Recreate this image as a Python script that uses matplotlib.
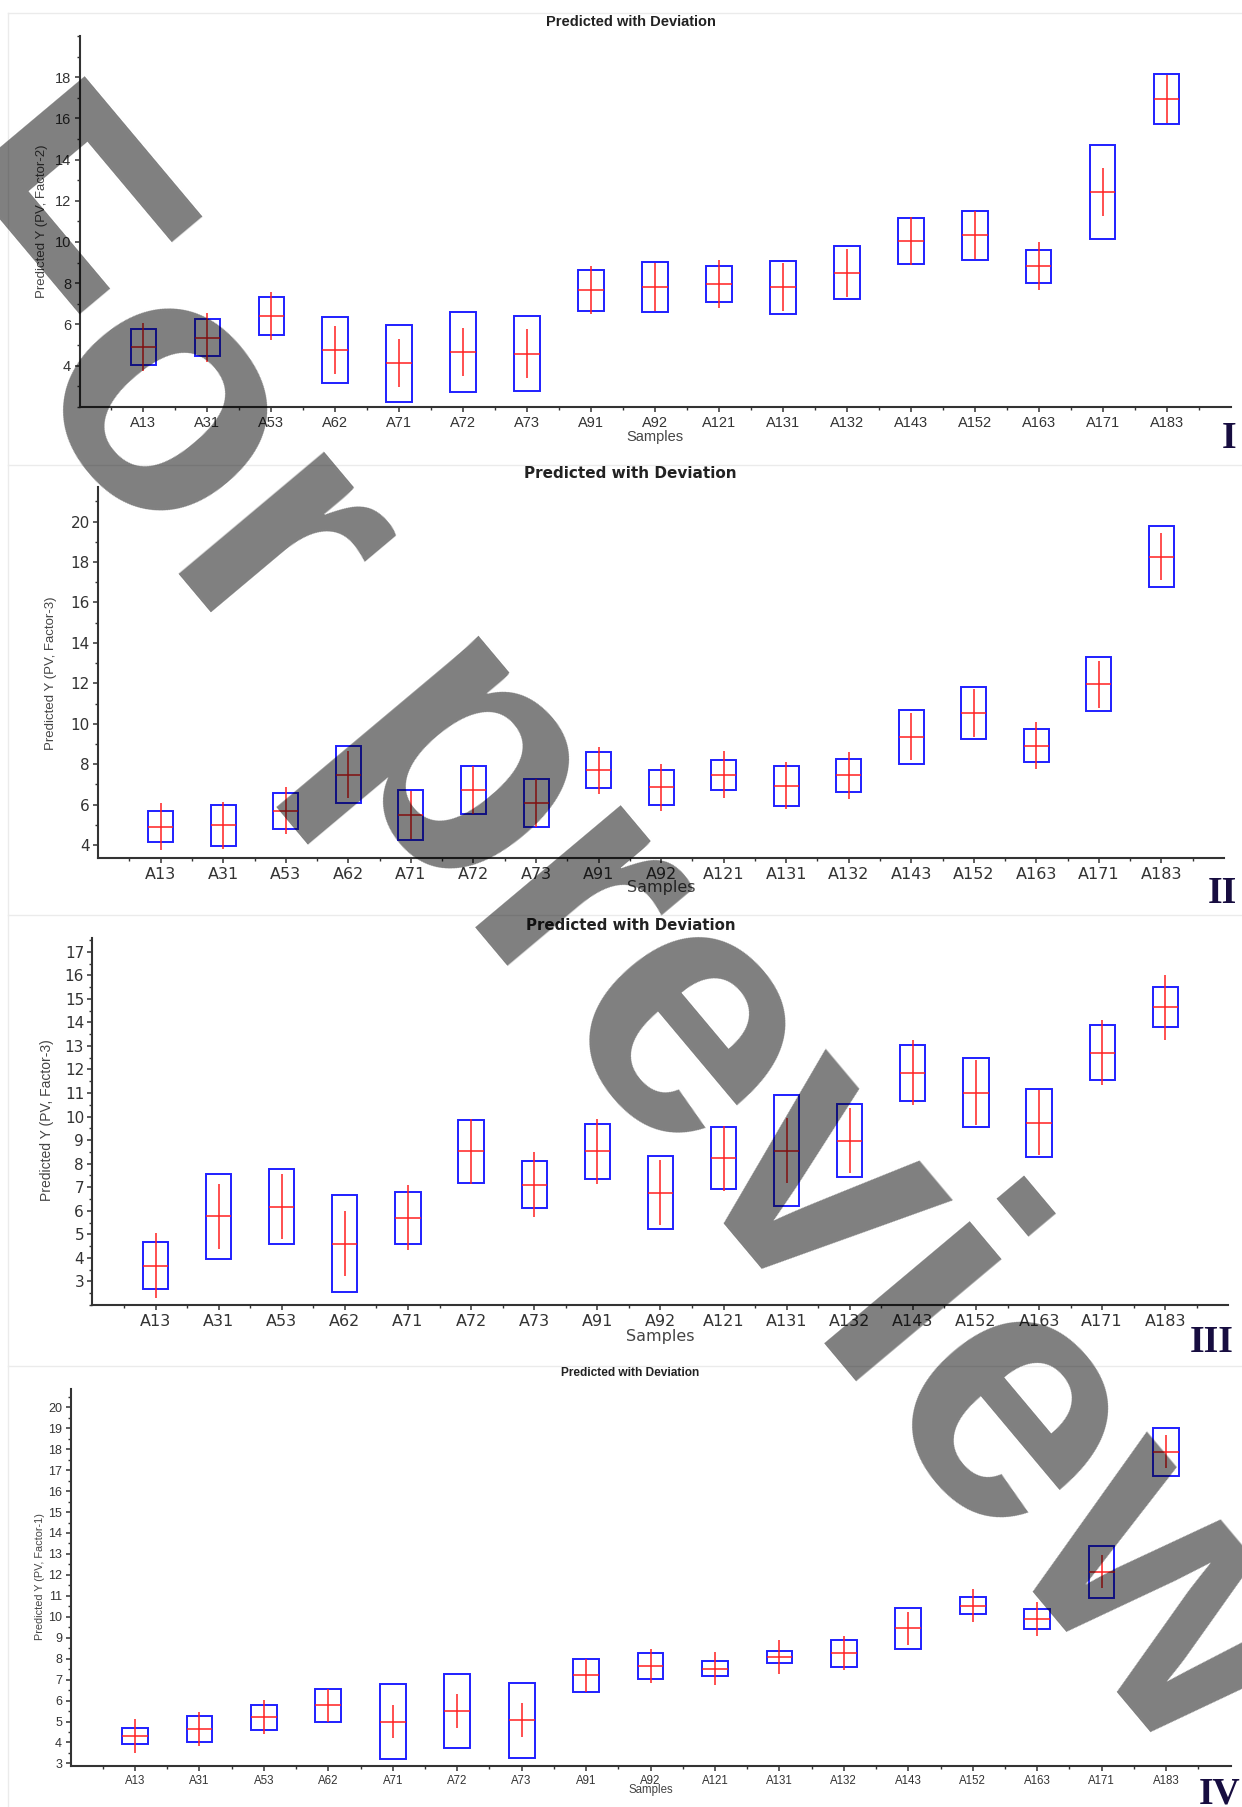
import matplotlib
matplotlib.use("Agg")
import matplotlib.pyplot as plt
from matplotlib.patches import Rectangle
from matplotlib.lines import Line2D
from matplotlib.ticker import MultipleLocator, FixedLocator, NullFormatter

W, H = 1242, 1807
plt.rcParams['font.family'] = ['Liberation Sans', 'DejaVu Sans']

samples = ["A13", "A31", "A53", "A62", "A71", "A72", "A73", "A91", "A92",
           "A121", "A131", "A132", "A143", "A152", "A163", "A171", "A183"]

# Panel I  (PV, Factor-2)
pred_1 = [4.90, 5.36, 6.41, 4.76, 4.12, 4.65, 4.58, 7.66, 7.82,
          7.94, 7.80, 8.50, 10.05, 10.32, 8.83, 12.42, 16.94]
dev_1 = [0.88, 0.90, 0.93, 1.60, 1.87, 1.93, 1.83, 0.99, 1.20,
         0.87, 1.29, 1.28, 1.10, 1.20, 0.80, 2.30, 1.21]
err_1 = 1.17
yticks_1 = [4, 6, 8, 10, 12, 14, 16, 18]

# Panel II  (PV, Factor-3)
pred_2 = [4.91, 4.98, 5.69, 7.48, 5.48, 6.72, 6.08, 7.70, 6.86,
          7.47, 6.94, 7.45, 9.35, 10.53, 8.92, 11.95, 18.27]
dev_2 = [0.76, 1.02, 0.89, 1.40, 1.22, 1.17, 1.17, 0.90, 0.86,
         0.73, 0.99, 0.82, 1.34, 1.31, 0.80, 1.33, 1.50]
err_2 = 1.17
yticks_2 = [4, 6, 8, 10, 12, 14, 16, 18, 20]

# Panel III  (PV, Factor-3)
pred_3 = [3.66, 5.76, 6.18, 4.60, 5.70, 8.52, 7.10, 8.53, 6.76,
          8.23, 8.55, 8.98, 11.86, 11.02, 9.74, 12.71, 14.65]
dev_3 = [1.00, 1.81, 1.61, 2.06, 1.10, 1.35, 1.00, 1.17, 1.55,
         1.32, 2.35, 1.54, 1.18, 1.48, 1.44, 1.16, 0.85]
err_3 = 1.38
yticks_3 = list(range(3, 18))

# Panel IV  (PV, Factor-1)
pred_4 = [4.30, 4.64, 5.21, 5.77, 5.00, 5.50, 5.06, 7.20, 7.65,
          7.53, 8.07, 8.26, 9.45, 10.53, 9.89, 12.16, 17.88]
dev_4 = [0.38, 0.62, 0.60, 0.77, 1.77, 1.77, 1.80, 0.80, 0.61,
         0.35, 0.29, 0.64, 0.98, 0.40, 0.47, 1.24, 1.14]
err_4 = 0.80
yticks_4 = list(range(3, 21))

panels = [
    dict(pred=pred_1, dev=dev_1, err=err_1, yticks=yticks_1, minor=1,
         ylabel="Predicted Y (PV, Factor-2)",
         box=(79.5, 36, 1230.5, 406.7), ylim=(2.0, 20.0),
         font="Liberation Sans", tsize=10.5, ysize=10.5, lsize=9.5, titlesize=10.5,
         title_y=21.5, label_xy=(42, 221), samples_y=437, numeral=("I", 1222, 448)),
    dict(pred=pred_2, dev=dev_2, err=err_2, yticks=yticks_2, minor=1,
         ylabel="Predicted Y (PV, Factor-3)",
         box=(98.2, 487.3, 1224, 858.3), ylim=(3.34, 21.7),
         font="DejaVu Sans", tsize=11.5, ysize=11, lsize=9.5, titlesize=11,
         title_y=473.3, label_xy=(51, 673), samples_y=887.7, numeral=("II", 1208, 903)),
    dict(pred=pred_3, dev=dev_3, err=err_3, yticks=yticks_3, minor=0.5,
         ylabel="Predicted Y (PV, Factor-3)",
         box=(92.4, 938.3, 1228.4, 1305), ylim=(2.0, 17.57),
         font="DejaVu Sans", tsize=11.5, ysize=11, lsize=10, titlesize=10.8,
         title_y=925, label_xy=(47, 1120), samples_y=1337, numeral=("III", 1190, 1352)),
    dict(pred=pred_4, dev=dev_4, err=err_4, yticks=yticks_4, minor=0.5,
         ylabel="Predicted Y (PV, Factor-1)",
         box=(70.5, 1389.3, 1230.5, 1765.7), ylim=(2.89, 20.86),
         font="Liberation Sans", tsize=8.3, ysize=9, lsize=7.8, titlesize=8.6,
         title_y=1373.3, label_xy=(40, 1577), samples_y=1790, numeral=("IV", 1199, 1803)),
]

fig = plt.figure(figsize=(W / 100, H / 100), dpi=100)
fig.patch.set_facecolor("white")


def fx(px):
    return px / W


def fy(py):
    return 1 - py / H


# panel frame lines
for y in (13.3, 465, 915, 1366):
    fig.add_artist(Line2D([fx(7.5), 1], [fy(y), fy(y)], color="#ebebeb", lw=1.0))
fig.add_artist(Line2D([fx(7.5), fx(7.5)], [fy(13.3), 0], color="#ebebeb", lw=1.0))

axis_col = "#333333"
xs = list(range(1, len(samples) + 1))

for p in panels:
    L, T, R, B = p["box"]
    ax = fig.add_axes([fx(L), fy(B), fx(R) - fx(L), fy(T) - fy(B)])
    ax.set_facecolor("none")
    for s in ("top", "right"):
        ax.spines[s].set_visible(False)
    for s in ("left", "bottom"):
        ax.spines[s].set_color(axis_col)
        ax.spines[s].set_linewidth(1.5)

    half_w = 0.2
    for x, c, d in zip(xs, p["pred"], p["dev"]):
        ax.add_patch(Rectangle((x - half_w, c - d), 2 * half_w, 2 * d, fill=False,
                               edgecolor="#1f1fff", lw=1.4, zorder=3))
    ax.hlines(p["pred"], [x - half_w for x in xs], [x + half_w for x in xs],
              color="#ff1f1f", lw=1.1, zorder=4)
    ax.vlines(xs, [c - p["err"] for c in p["pred"]], [c + p["err"] for c in p["pred"]],
              color="#ff1f1f", lw=1.1, zorder=4)

    ax.set_xlim(0, 18)
    ax.set_ylim(*p["ylim"])
    ax.xaxis.set_major_locator(FixedLocator(xs))
    ax.xaxis.set_minor_locator(FixedLocator([x + 0.5 for x in range(0, 18)]))
    ax.set_xticklabels(samples, fontsize=p["tsize"], family=p["font"], color=axis_col)
    ax.yaxis.set_major_locator(FixedLocator(p["yticks"]))
    ax.yaxis.set_minor_locator(MultipleLocator(p["minor"]))
    ax.yaxis.set_minor_formatter(NullFormatter())
    ax.set_yticklabels([str(v) for v in p["yticks"]], family=p["font"])
    ax.tick_params(axis="y", which="major", labelsize=p["ysize"], length=3.5, width=1.1,
                   color=axis_col, labelcolor=axis_col, pad=2.5)
    ax.tick_params(axis="y", which="minor", length=2.5, width=1.0, color=axis_col)
    ax.tick_params(axis="x", which="major", length=3.5, width=1.1, color=axis_col,
                   pad=3)
    ax.tick_params(axis="x", which="minor", length=2.5, width=1.0, color=axis_col)

    fig.text(fx(630.5), fy(p["title_y"]), "Predicted with Deviation", ha="center",
             va="center", fontsize=p["titlesize"], fontweight="bold",
             family=p["font"], color="#222222")
    fig.text(fx(p["label_xy"][0]), fy(p["label_xy"][1]), p["ylabel"], rotation=90,
             ha="center", va="center", fontsize=p["lsize"], color="#444444")
    fig.text(fx((L + R) / 2), fy(p["samples_y"]), "Samples", ha="center", va="center",
             fontsize=p["tsize"], family=p["font"], color="#444444")
    num, nx, ny = p["numeral"]
    fig.text(fx(nx), fy(ny), num, ha="left", va="baseline", fontsize=27,
             fontweight="bold", family="Liberation Serif", color="#170d40")

# preview watermark
fig.text(fx(530), fy(993), "For preview", rotation=-50, rotation_mode="anchor",
         ha="center", va="baseline", fontsize=260, fontweight="bold",
         family="Liberation Sans", color="black", alpha=0.5, zorder=100)

fig.savefig("out.png", dpi=100, facecolor="white")
